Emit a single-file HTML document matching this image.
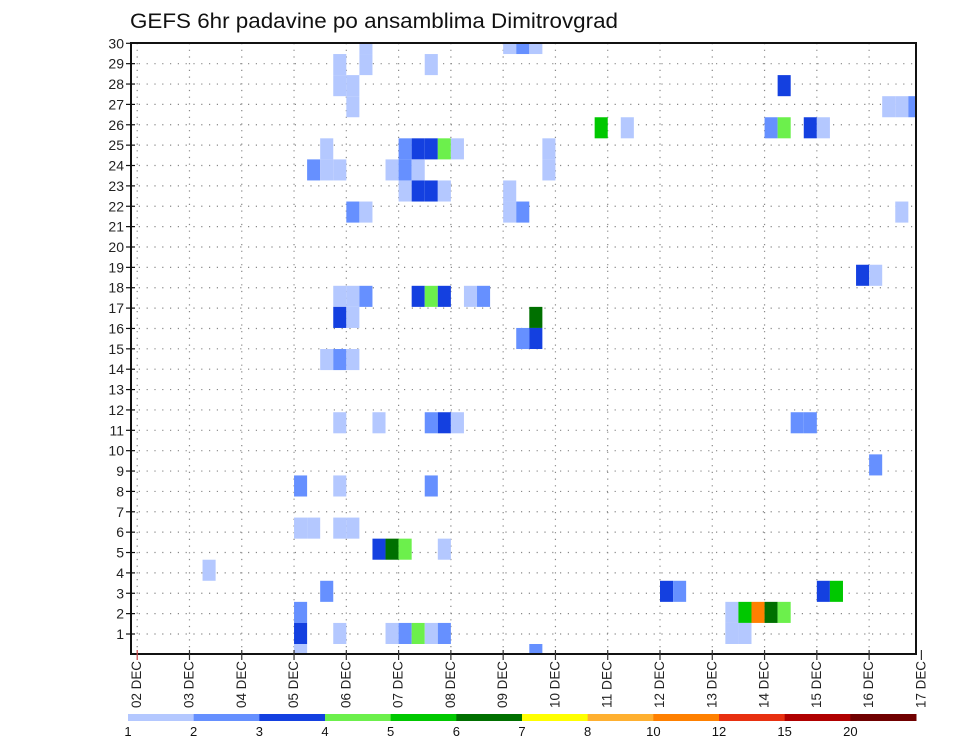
<!DOCTYPE html>
<html><head><meta charset="utf-8"><style>
body{margin:0;background:#fff;}
svg{display:block;font-family:"Liberation Sans",sans-serif;}
</style></head><body>
<svg id="chart" width="960" height="742" viewBox="0 0 960 742" xmlns="http://www.w3.org/2000/svg">
<rect width="960" height="742" fill="#fff"/>
<text x="130" y="28" font-size="21" textLength="488" lengthAdjust="spacingAndGlyphs" fill="#111">GEFS 6hr padavine po ansamblima Dimitrovgrad</text>
<g id="grid"></g><g id="cells"></g><g id="axes"></g><g id="legend"></g>
</svg>
<script>
// Data
const dayLabels = ["02 DEC","03 DEC","04 DEC","05 DEC","06 DEC","07 DEC","08 DEC","09 DEC","10 DEC","11 DEC","12 DEC","13 DEC","14 DEC","15 DEC","16 DEC","17 DEC"];
const memberLabels = [1,2,3,4,5,6,7,8,9,10,11,12,13,14,15,16,17,18,19,20,21,22,23,24,25,26,27,28,29,30];
const levelLabels = ["1","2","3","4","5","6","7","8","10","12","15","20"];
const levelBounds = [1,2,3,4,5,6,7,8,10,12,15,20,30];
const levelColors = ["#b4c8ff","#6690ff","#1440e0","#6cf04c","#00c800","#007000","#ffff00","#ffb030","#ff8000","#e83010","#b00000","#700000"];
// cells: 6-hour step index (from 02 DEC 00z), ensemble slot, precipitation (mm)
const cellStep = [28,29,30,17,17,15,15,16,16,22,
 14,20,21,22,23,24, 13,14,15,19,20,21,31,31, 20,21,22,23,28,28, 16,17,29,
 15,16,17,21,22,23,25,26, 15,16,30, 29,30, 14,15,16, 15,18,22,23,24,
 12,15,22, 12,13,15,16, 18,19,20,23, 5, 14, 12, 12,15,19,20,21,22,23, 12,30,
 49, 57,58,59, 35,37,48,49,51,52, 58, 55,56,
 50,51, 56, 40,41,52,53, 45,46,47,48,49, 45,46];
const cellMember = [29,29,29,29,28,28,27,27,26,28,
 24,24,24,24,24,24, 23,23,23,23,23,23,24,23, 22,22,22,22,22,21, 21,21,21,
 17,17,17,17,17,17,17,17, 16,16,16, 15,15, 14,14,14, 11,11,11,11,11,
 8,8,8, 6,6,6,6, 5,5,5,5, 4, 3, 2, 1,1,1,1,1,1,1, 0,0,
 27, 26,26,26, 25,25,25,25,25,25, 21, 18,18,
 11,11, 9, 3,3,3,3, 2,2,2,2,2, 1,1];
const cellValue = [1.5,2.5,1.5,1.5,1.5,1.5,1.5,1.5,1.5,1.5,
 1.5,2.5,3.5,3.5,4.5,1.5, 2.5,1.5,1.5,1.5,2.5,1.5,1.5,1.5, 1.5,3.5,3.5,1.5,1.5,1.5, 2.5,1.5,2.5,
 1.5,1.5,2.5,3.5,4.5,3.5,1.5,2.5, 3.5,1.5,6.5, 2.5,3.5, 1.5,2.5,1.5, 1.5,1.5,2.5,3.5,1.5,
 2.5,1.5,2.5, 1.5,1.5,1.5,1.5, 3.5,6.5,4.5,1.5, 1.5, 2.5, 2.5, 3.5,1.5,1.5,2.5,4.5,1.5,2.5, 1.5,2.5,
 3.5, 1.5,1.5,2.5, 5.5,1.5,2.5,4.5,3.5,1.5, 1.5, 3.5,1.5,
 2.5,2.5, 2.5, 3.5,2.5,3.5,5.5, 1.5,5.5,11,6.5,4.5, 1.5,1.5];

const NS="http://www.w3.org/2000/svg";
const L=131,R=916,T=43,B=654;
const x0=137.2, stepW=13.07;
function xStep(i){return x0+i*stepW;}
function xDay(d){return x0+d*4*stepW;}
function yLabel(m){return 634-(m-1)*(634-43.3)/29;}
const cellBase=644, cellH=21.07;
function yCell(j){return cellBase-j*cellH;}
function colorFor(v){for(let k=0;k<levelColors.length;k++){if(v<levelBounds[k+1])return levelColors[k];}return levelColors[levelColors.length-1];}
function mk(tag,attrs,parent){const e=document.createElementNS(NS,tag);for(const k in attrs)e.setAttribute(k,attrs[k]);parent.appendChild(e);return e;}

const grid=document.getElementById('grid'),cells=document.getElementById('cells'),axes=document.getElementById('axes'),legend=document.getElementById('legend');
memberLabels.forEach(m=>{const y=yLabel(m);
 const g=mk('line',{x1:L,x2:R,y1:y,y2:y,stroke:'#888','stroke-width':1.2,'stroke-dasharray':'1.2 6.6'},grid);
 
 });
dayLabels.forEach((d,k)=>{const x=xDay(k); if(x>R)return;
 const g=mk('line',{x1:x,x2:x,y1:T,y2:B,stroke:'#888','stroke-width':1.2,'stroke-dasharray':'1.2 5.5'},grid);
 
 });
for(let n=0;n<cellStep.length;n++){
 const x=xStep(cellStep[n]); let y=yCell(cellMember[n]); let h=cellH; let w=stepW;
 if(y<T){h-=T-y;y=T;} if(y+h>B)h=B-y; if(x+w>R)w=R-x;
 const r=mk('rect',{x:x,y:y,width:w,height:h,fill:colorFor(cellValue[n])},cells);
 
 
}
const fr=mk('rect',{x:L,y:T,width:R-L,height:B-T,fill:'none',stroke:'#111','stroke-width':2},axes);


memberLabels.forEach(m=>{const y=yLabel(m);
 mk('line',{x1:126,x2:L+4,y1:y,y2:y,stroke:'#111','stroke-width':1.2},axes);
 const t=mk('text',{x:124,y:y+5,'font-size':14,'text-anchor':'end',fill:'#222'},axes);
 t.textContent=m;
 
 });
dayLabels.forEach((d,k)=>{const x=xDay(k);
 mk('line',{x1:x,x2:x,y1:B-4,y2:B+6,stroke:k==0?'#c44':'#333','stroke-width':1.2},axes);
 const t=mk('text',{transform:`translate(${x+4},708) rotate(-90)`,'font-size':14,textLength:47,lengthAdjust:'spacingAndGlyphs',fill:'#222'},axes);
 t.textContent=d;
 
 });
const lx=128,lw=(916-128)/levelColors.length;
levelColors.forEach((c,k)=>{
 const r=mk('rect',{x:lx+k*lw,y:714,width:lw+0.5,height:7,fill:c},legend);
 
 });
levelLabels.forEach((s,k)=>{
 const t=mk('text',{x:lx+k*lw,y:736,'font-size':13,'text-anchor':'middle',fill:'#111'},legend);
 t.textContent=s;
 
 });
</script>
</body></html>
